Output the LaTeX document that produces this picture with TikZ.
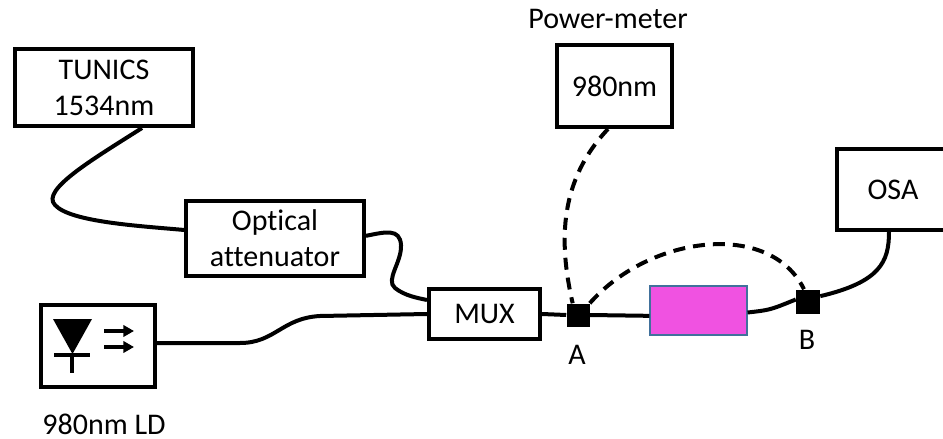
\documentclass[tikz,border=0pt]{standalone}
\usepackage{fontspec}
\setmainfont{Carlito}[Ligatures=NoCommon]
\usepackage{tikz}
\usetikzlibrary{arrows.meta}
\definecolor{pinkfill}{RGB}{240,82,225}
\definecolor{pinkline}{RGB}{65,113,156}

\begin{document}
\begin{tikzpicture}
                [
                x=0.75pt, y=-0.75pt,
                font=\fontsize{22.5}{27}\selectfont,
                box/.style={draw,line width=3pt,inner sep=0pt,align=center},
                tag/.style={inner sep=1pt},
                fibre/.style={line width=3pt},
                probe/.style={line width=3pt,dash pattern=on 9pt off 6pt},
                conn/.style={fill,inner sep=0pt},
                emit/.style={line width=2.5pt,-{Triangle[length=8pt,width=8.5pt]}}
                ]
            \clip (0,0) rectangle (943,439);
            \node[box,minimum width=133.5pt,minimum height=57.75pt] (tunics) at (104,87.5) {TUNICS\\1534nm};
            \node[box,minimum width=133.5pt,minimum height=56.25pt] (att) at (275,238.5) {Optical\\attenuator};
            \node[box,minimum width=85.5pt,minimum height=61.5pt] (ld) at (98,346) {};
            \node[box,minimum width=83.25pt,minimum height=37.5pt] (mux) at (484.5,314) {MUX};
            \node[box,minimum width=86.25pt,minimum height=61.5pt] (pm) at (614.5,86) {980nm};
            \node[box,minimum width=84pt,minimum height=60.75pt] (osa) at (893,189.5) {OSA};
            \node[draw=pinkline,fill=pinkfill,line width=0.9pt,minimum width=72.75pt,minimum height=36.75pt] (dut) at (698.5,310.5) {};
            \node[conn,minimum size=17.25pt] (A) at (578,315) {};
            \node[conn,minimum size=18pt] (B) at (808,301.5) {};
            % labels
            \node[tag] (pmlabel) at (608,18.5) {Power-meter};
            \node[tag] (ldlabel) at (104,424) {980nm LD};
            \node[tag] (alabel) at (577,354.5) {A};
            \node[tag] (blabel) at (807,340) {B};
            % laser diode symbol
            \fill (53,319) -- (92,319) -- (72.5,354) -- cycle;
            \draw[line width=2.5pt] (54,355) -- (90,355);
            \draw[line width=2.5pt] (72,355) -- (72,373);
            \draw[emit] (104,331) -- (134,331);
            \draw[emit] (104,347) -- (134,347);
            % fibres
            \draw[fibre] ([xshift=28.5pt]tunics.south) .. controls (95,158) and (40,190) .. (55,205)
                .. controls (70,222) and (140,226) .. ([yshift=6.4pt]att.west);
            \draw[fibre] ([yshift=2pt]att.east) .. controls (385,232) and (400,228) .. (401,245)
                .. controls (402,262) and (385,280) .. (395,288)
                .. controls (405,296) and (418,298) .. ([yshift=10.5pt]mux.west);
            \draw[fibre] ([yshift=2.25pt]ld.east) -- (240,343) .. controls (275,343) and (282,318) .. (320,316) -- (mux.west);
            \draw[fibre] (mux.east) -- (A.west);
            \draw[fibre] (A.east) -- ([yshift=-4pt]dut.west);
            \draw[fibre] ([yshift=-1.5pt]dut.east) .. controls (770,310) .. ([yshift=1.5pt]B.west);
            \draw[fibre] ([yshift=4pt]B.east) .. controls (880,282) and (889,262) .. ([xshift=-3pt]osa.south);
            % probe fibres
            \draw[probe] ([xshift=-4.9pt]pm.south) .. controls (560,180) and (558,240) .. ([xshift=-4pt]A.north);
            \draw[probe] (A.north east) .. controls (650,235) and (770,220) .. ([xshift=-3pt]B.north);
            \end{tikzpicture}
\end{document}
